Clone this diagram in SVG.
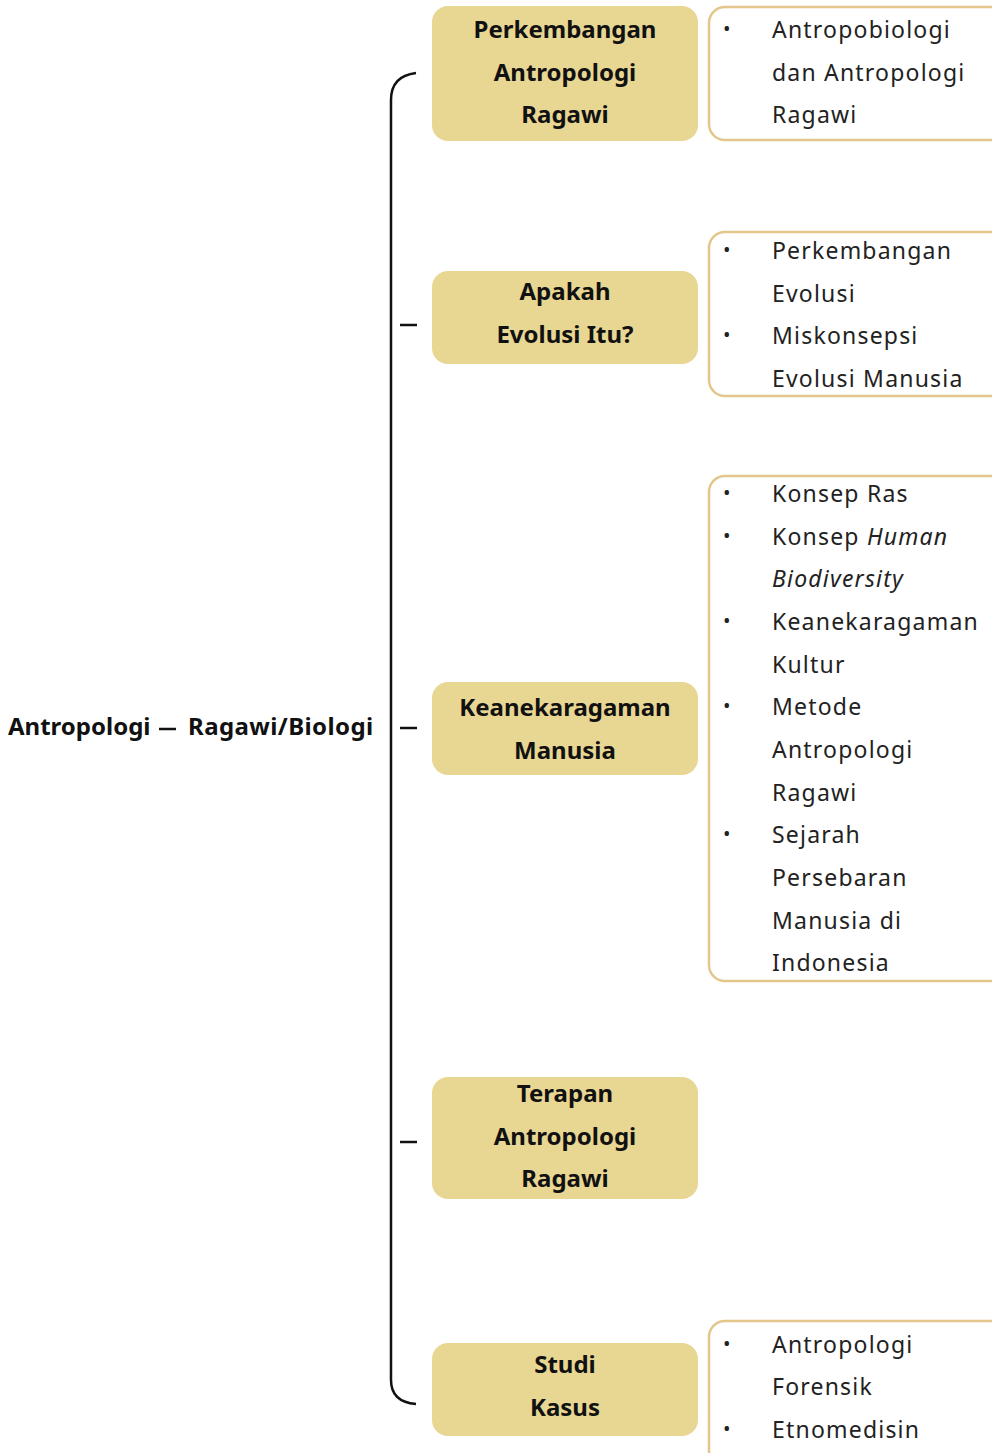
<svg xmlns="http://www.w3.org/2000/svg" width="992" height="1453" viewBox="0 0 992 1453">
<style>
.main{fill:#E8D693}
.sub{fill:#fff;stroke:#E2C68C;stroke-width:2.5}
.b{font-family:"Noto Sans","Liberation Sans",sans-serif;font-weight:bold;font-size:24px;fill:#111;text-anchor:middle}
.r{font-family:"Noto Sans","Liberation Sans",sans-serif;font-size:23px;fill:#222;letter-spacing:1.2px}
.bul{font-family:"Noto Sans","Liberation Sans",sans-serif;font-size:20px;fill:#222}
.ln{fill:none;stroke:#111;stroke-width:2.5}
</style>
<rect width="992" height="1453" fill="#fff"/>
<g id="connectors">
<path class="ln" d="M416,73 Q391,76 391,100 L391,1380 Q391,1402 416,1404"/>
<path class="ln" d="M400,325 H417 M400,728 H417 M400,1142 H417"/>
</g>
<g id="root">
<text class="b" x="8" y="735" style="text-anchor:start">Antropologi</text>
<path class="ln" d="M159,729 H176" stroke-width="2"/>
<text class="b" x="188" y="735" style="text-anchor:start" letter-spacing="0.4">Ragawi/Biologi</text>
</g>
<g id="n1">
<rect class="main" x="432" y="6" width="266" height="135" rx="16"/>
<text class="b" x="565" y="38">Perkembangan</text>
<text class="b" x="565" y="81">Antropologi</text>
<text class="b" x="565" y="123">Ragawi</text>
</g>
<g id="n1s">
<rect class="sub" x="709" y="7" width="300" height="133" rx="16"/>
<text class="bul" x="723" y="36">•</text>
<text class="r" x="772" y="38">Antropobiologi</text>
<text class="r" x="772" y="81">dan Antropologi</text>
<text class="r" x="772" y="123">Ragawi</text>
</g>
<g id="n2">
<rect class="main" x="432" y="271" width="266" height="93" rx="16"/>
<text class="b" x="565" y="300">Apakah</text>
<text class="b" x="565" y="343">Evolusi Itu?</text>
</g>
<g id="n2s">
<rect class="sub" x="709" y="232" width="300" height="164" rx="16"/>
<text class="bul" x="723" y="257">•</text>
<text class="r" x="772" y="259">Perkembangan</text>
<text class="r" x="772" y="302">Evolusi</text>
<text class="bul" x="723" y="342">•</text>
<text class="r" x="772" y="344">Miskonsepsi</text>
<text class="r" x="772" y="387">Evolusi Manusia</text>
</g>
<g id="n3">
<rect class="main" x="432" y="682" width="266" height="93" rx="16"/>
<text class="b" x="565" y="716">Keanekaragaman</text>
<text class="b" x="565" y="759">Manusia</text>
</g>
<g id="n3s">
<rect class="sub" x="709" y="476" width="300" height="505" rx="16"/>
<text class="bul" x="723" y="500">•</text>
<text class="r" x="772" y="502">Konsep Ras</text>
<text class="bul" x="723" y="543">•</text>
<text class="r" x="772" y="545">Konsep <tspan font-style="italic">Human</tspan></text>
<text class="r" x="772" y="587" font-style="italic">Biodiversity</text>
<text class="bul" x="723" y="628">•</text>
<text class="r" x="772" y="630">Keanekaragaman</text>
<text class="r" x="772" y="673">Kultur</text>
<text class="bul" x="723" y="713">•</text>
<text class="r" x="772" y="715">Metode</text>
<text class="r" x="772" y="758">Antropologi</text>
<text class="r" x="772" y="801">Ragawi</text>
<text class="bul" x="723" y="841">•</text>
<text class="r" x="772" y="843">Sejarah</text>
<text class="r" x="772" y="886">Persebaran</text>
<text class="r" x="772" y="929">Manusia di</text>
<text class="r" x="772" y="971">Indonesia</text>
</g>
<g id="n4">
<rect class="main" x="432" y="1077" width="266" height="122" rx="16"/>
<text class="b" x="565" y="1102">Terapan</text>
<text class="b" x="565" y="1145">Antropologi</text>
<text class="b" x="565" y="1187">Ragawi</text>
</g>
<g id="n5">
<rect class="main" x="432" y="1343" width="266" height="93" rx="16"/>
<text class="b" x="565" y="1373">Studi</text>
<text class="b" x="565" y="1416">Kasus</text>
</g>
<g id="n5s">
<rect class="sub" x="709" y="1321" width="300" height="160" rx="16"/>
<text class="bul" x="723" y="1351">•</text>
<text class="r" x="772" y="1353">Antropologi</text>
<text class="r" x="772" y="1395">Forensik</text>
<text class="bul" x="723" y="1436">•</text>
<text class="r" x="772" y="1438">Etnomedisin</text>
</g>
</svg>
